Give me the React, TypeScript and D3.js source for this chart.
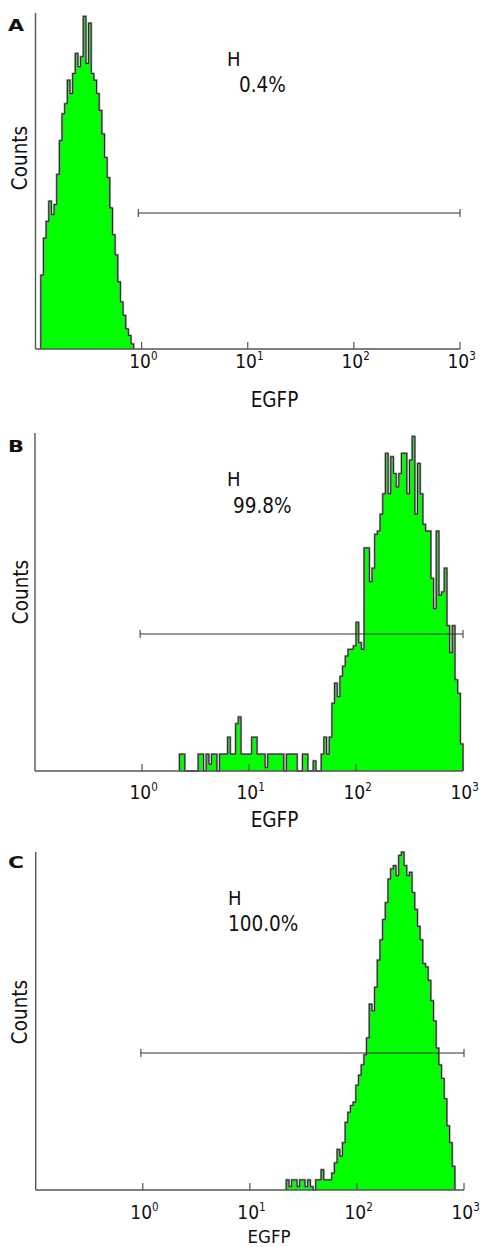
import React from "react";
import * as d3 from "d3";

// ---------- data ----------
const PANEL_LABELS = ["A", "B", "C"];
const GATE_NAME = "H";
const GATE_PERCENTS = ["0.4%", "99.8%", "100.0%"];
const X_LABEL = "EGFP";
const Y_LABEL = "Counts";
const TICK_EXPONENTS = [0, 1, 2, 3];
const X_DOMAIN = [0.1, 1000];
const GATE_MIN = [0.93, 0.96, 0.96];
const GATE_MAX = [1000, 1000, 1000];

// histogram bins: 40 per decade (log10 step 0.025), counts in % of full scale
const BIN_STEP = 0.025;
const startA = -0.95;
const countsA = [
  22, 33, 38, 44, 40, 43, 52, 62, 70, 73, 80, 76, 82, 88, 84, 87, 99, 85, 97, 82,
  80, 76, 71, 64, 57, 51, 42, 34, 28, 20, 14, 10, 6, 4, 1.5,
];
const startB = 0.35;
const countsB = [
  5, 5, 0, 0, 0, 0, 0, 5, 5, 0, 5, 2, 5, 5, 0, 5, 5, 5, 10, 5,
  5, 14, 16, 5, 5, 5, 5, 10, 10, 5, 5, 5, 1, 5, 5, 5, 5, 5, 5, 0,
  5, 5, 5, 5, 0, 0, 5, 5, 0, 0, 3, 0, 0, 5, 10, 5, 10, 20, 26, 22,
  28, 31, 34, 36, 36, 37, 44, 38, 36, 66, 66, 56, 60, 70, 71, 76, 82, 94, 82, 93,
  88, 84, 88, 94, 94, 82, 92, 99, 76, 91, 82, 73, 71, 71, 57, 48, 71, 52, 53, 60,
  43, 35, 43, 27, 23, 8,
];
const startC = 1.34;
const countsC = [
  3, 1, 3, 3, 1, 3, 3, 1, 3, 1, 0, 3, 3, 6, 3, 3, 3, 5, 8, 12,
  10, 14, 20, 23, 25, 26, 31, 34, 37, 40, 45, 55, 53, 60, 68, 74, 80, 85, 92, 95,
  96, 93, 99, 100, 96, 93, 94, 88, 83, 78, 74, 67, 66, 62, 56, 50, 42, 37, 33, 27,
  19, 14, 7,
];

const STARTS = [startA, startB, startC];
const COUNTS = [countsA, countsB, countsC];

// ---------- layout ----------
const LAYOUT = [
  { left: 35.5, right: 460, top: 13, base: 349, gateY: 213, hX: 227, hY: 66, pX: 239, pY: 92, tickY: 368, xlabX: 274.5, xlabY: 407, xlabSize: 20.5, cX: 27, cY: 158, letY: 31 },
  { left: 35, right: 463, top: 433, base: 771, gateY: 634, hX: 227, hY: 486, pX: 233, pY: 513, tickY: 799, xlabX: 274.5, xlabY: 827, xlabSize: 20.5, cX: 28, cY: 592, letY: 452 },
  { left: 35.7, right: 464, top: 852, base: 1190, gateY: 1053, hX: 228, hY: 905, pX: 228, pY: 931, tickY: 1219, xlabX: 269, xlabY: 1242.5, xlabSize: 18.5, cX: 27, cY: 1012, letY: 868 },
];

const FONT = "'DejaVu Sans Condensed', 'DejaVu Sans', sans-serif";
const BOLD_FONT = "'DejaVu Sans', sans-serif";

function Panel({ idx }: { idx: number }) {
  const L = LAYOUT[idx];
  const x = d3.scaleLog().domain(X_DOMAIN).range([L.left, L.right]);
  const y = d3.scaleLinear().domain([0, 100]).range([L.base, L.top]);
  const counts = COUNTS[idx];
  const start = STARTS[idx];
  const pts: [number, number][] = counts.map((c, i) => [Math.pow(10, start + i * BIN_STEP), c]);
  pts.push([Math.pow(10, start + counts.length * BIN_STEP), counts[counts.length - 1]]);
  const area = d3
    .area<[number, number]>()
    .x((d) => x(d[0]))
    .y0(L.base)
    .y1((d) => y(d[1]))
    .curve(d3.curveStepAfter);
  const stepLine = d3
    .line<[number, number]>()
    .x((d) => x(d[0]))
    .y((d) => y(d[1]))
    .curve(d3.curveStepAfter);
  const first = pts[0];
  const last = pts[pts.length - 1];
  const outlinePts: [number, number][] = [[first[0], 0], ...pts, [last[0], 0]];
  const stepPath = stepLine(outlinePts.slice(0, outlinePts.length - 1)) + `V${L.base}`;
  const gx0 = x(GATE_MIN[idx]);
  const gx1 = x(GATE_MAX[idx]);
  return (
    <g>
      <path d={area(pts) || ""} fill="#00ff00" />
      <path d={stepPath} fill="none" stroke="#8a8a8a" strokeWidth={2.2} opacity={0.8} />
      <path d={stepPath} fill="none" stroke="#1a1a1a" strokeWidth={0.9} />
      {/* axes */}
      <line x1={L.left} x2={L.left} y1={L.top} y2={L.base} stroke="#555" strokeWidth={1.4} />
      <line x1={L.left} x2={L.right} y1={L.base} y2={L.base} stroke="#555" strokeWidth={1.4} />
      {TICK_EXPONENTS.map((e) => (
        <g key={e}>
          <line x1={x(Math.pow(10, e))} x2={x(Math.pow(10, e))} y1={L.base} y2={L.base - 7} stroke="#555" strokeWidth={1.2} />
          <text x={x(Math.pow(10, e)) - 12.5} y={L.tickY} fontFamily={FONT} fontSize={19} fill="#111">
            10
            <tspan dy={-8} fontSize={11.5}>{e}</tspan>
          </text>
        </g>
      ))}
      {/* gate */}
      <line x1={gx0} x2={gx1} y1={L.gateY} y2={L.gateY} stroke="#333" strokeWidth={1} />
      <line x1={gx0} x2={gx0} y1={L.gateY - 4} y2={L.gateY + 4} stroke="#333" strokeWidth={1} />
      <line x1={gx1} x2={gx1} y1={L.gateY - 4} y2={L.gateY + 4} stroke="#333" strokeWidth={1} />
      <text x={L.hX} y={L.hY} fontFamily={FONT} fontSize={20} fill="#111">{GATE_NAME}</text>
      <text x={L.pX} y={L.pY} fontFamily={FONT} fontSize={20.5} fill="#111">{GATE_PERCENTS[idx]}</text>
      {/* labels */}
      <text x={L.xlabX} y={L.xlabY} textAnchor="middle" fontFamily={FONT} fontSize={L.xlabSize} fill="#111">{X_LABEL}</text>
      <text transform={`translate(${L.cX},${L.cY}) rotate(-90)`} textAnchor="middle" fontFamily={FONT} fontSize={20.5} fill="#111">{Y_LABEL}</text>
      <text x={8} y={L.letY} fontFamily={BOLD_FONT} fontSize={15} fontWeight={900} fill="#111" textLength={16} lengthAdjust="spacingAndGlyphs">{PANEL_LABELS[idx]}</text>
    </g>
  );
}

export default function App() {
  return (
    <svg width={483} height={1247} style={{ position: "absolute", left: 0, top: 0, background: "#fff" }}>
      <rect width={483} height={1247} fill="#fff" />
      {[0, 1, 2].map((i) => (
        <Panel key={i} idx={i} />
      ))}
    </svg>
  );
}
